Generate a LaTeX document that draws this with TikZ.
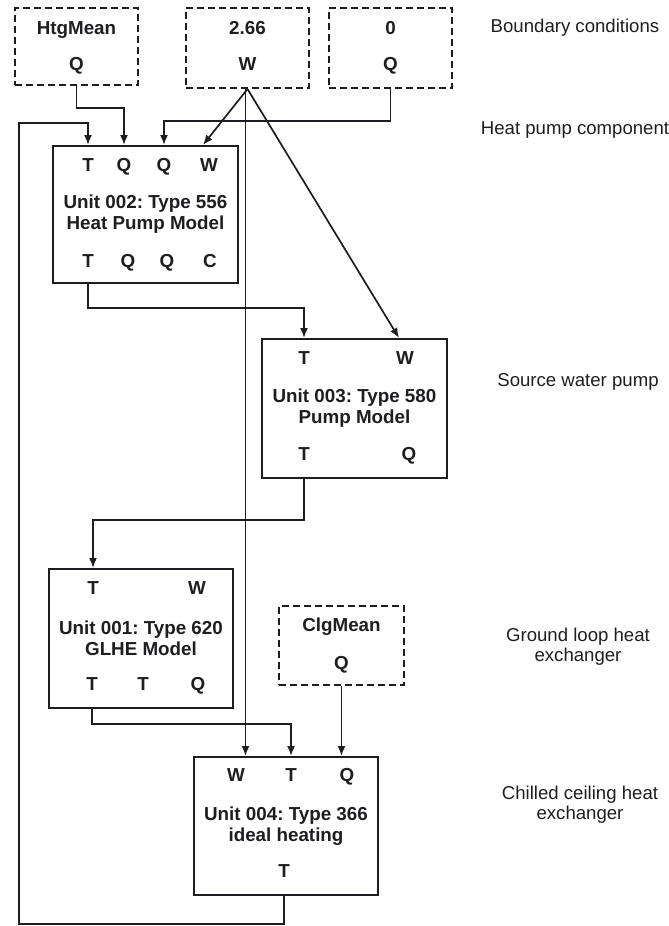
\documentclass[tikz,border=0pt]{standalone}
\usepackage{fontspec}
\setmainfont{Liberation Sans}
\frenchspacing
\usetikzlibrary{arrows.meta,positioning}
\definecolor{HpInk}{RGB}{30,30,34}
\tikzset{
  hp/unit/.style={
    draw=HpInk,
    line width=1pt,
    fill=white,
    align=center,
    text=HpInk,
    inner sep=0pt,
    font=\bfseries\fontsize{9.4}{10.5}\selectfont
  },
  hp/bound/.style={
    draw=HpInk,
    line width=1pt,
    dash pattern=on 3.5pt off 2pt,
    inner sep=0pt
  },
  hp/port/.style={font=\bfseries\fontsize{9.4}{11}\selectfont, text=HpInk, inner sep=1pt,
    text height=1.6ex, text depth=0.25ex},
  hp/note/.style={font=\fontsize{9.3}{10}\selectfont, text=HpInk, align=center},
  hp/arrow/.style={-{Latex[length=5pt,width=4pt]}, line width=0.85pt, draw=HpInk},
  hp/line/.style={line width=0.85pt, draw=HpInk}
}
\begin{document}
\begin{tikzpicture}[x=0.5pt,y=-0.5pt]
  \useasboundingbox (0,0) rectangle (669,926);
  % boundary conditions
  \node[hp/bound,minimum width=61.5pt,minimum height=38.5pt] (htg) at (76.5,46.5) {};
  \node[hp/bound,minimum width=61.5pt,minimum height=40pt] (w266) at (247.5,48) {};
  \node[hp/bound,minimum width=61.5pt,minimum height=40pt] (zero) at (390.5,48) {};
  \node[hp/bound,minimum width=62.5pt,minimum height=39.5pt] (clg) at (341.5,645.5) {};
  \node[hp/port] (htgname) at (76.5,27) {HtgMean};
  \node[hp/port] (htgq) at (76.5,63) {Q};
  \node[hp/port] (w266name) at (247.5,27) {2.66};
  \node[hp/port] (w266w) at (247.5,63) {W};
  \node[hp/port] (zeroname) at (390.5,27) {0};
  \node[hp/port] (zeroq) at (390.5,63) {Q};
  \node[hp/port] (clgname) at (341.5,624) {ClgMean};
  \node[hp/port] (clgq) at (341.5,662) {Q};
  % units
  \node[hp/unit,minimum width=92.5pt,minimum height=68.5pt] (u2) at (145.5,214.5) {Unit 002: Type 556\\Heat Pump Model};
  \node[hp/unit,minimum width=92.5pt,minimum height=69.5pt] (u3) at (354.5,408.5) {Unit 003: Type 580\\Pump Model};
  \node[hp/unit,minimum width=92pt,minimum height=69.5pt] (u1) at (141,638.5) {Unit 001: Type 620\\GLHE Model};
  \node[hp/unit,minimum width=92pt,minimum height=69pt] (u4) at (286,826) {Unit 004: Type 366\\ideal heating};
  % ports
  \node[hp/port] (u2i1) at (88,164) {T};
  \node[hp/port] (u2i2) at (124,164) {Q};
  \node[hp/port] (u2i3) at (164,164) {Q};
  \node[hp/port] (u2i4) at (209,164) {W};
  \node[hp/port] (u2o1) at (88,260) {T};
  \node[hp/port] (u2o2) at (128,260) {Q};
  \node[hp/port] (u2o3) at (167,260) {Q};
  \node[hp/port] (u2o4) at (210,260) {C};
  \node[hp/port] (u3i1) at (304,357) {T};
  \node[hp/port] (u3i2) at (405,357) {W};
  \node[hp/port] (u3o1) at (304,453) {T};
  \node[hp/port] (u3o2) at (409,453) {Q};
  \node[hp/port] (u1i1) at (93,587) {T};
  \node[hp/port] (u1i2) at (197,587) {W};
  \node[hp/port] (u1o1) at (92,683) {T};
  \node[hp/port] (u1o2) at (143,683) {T};
  \node[hp/port] (u1o3) at (198,683) {Q};
  \node[hp/port] (u4i1) at (236,774) {W};
  \node[hp/port] (u4i2) at (291,774) {T};
  \node[hp/port] (u4i3) at (347,774) {Q};
  \node[hp/port] (u4o1) at (284,870) {T};
  % notes
  \node[hp/note] (nbound) at (575,28) {Boundary conditions};
  \node[hp/note] (nhp) at (575,130) {Heat pump component};
  \node[hp/note] (npump) at (578,382) {Source water pump};
  \node[hp/note] (nglhe) at (578,647) {Ground loop heat\\exchanger};
  \node[hp/note] (nccl) at (580,805) {Chilled ceiling heat\\exchanger};
  % connectors
  \coordinate (loop) at (19,123);
  \draw[hp/arrow] (htg.south) -- ++(0,22) -| (u2i2 |- u2.north);
  \draw[hp/arrow] (zero.south) -- ++(0,32) -| (u2i3 |- u2.north);
  \draw[hp/arrow] (w266.south) -- ([xshift=-3pt]u2i4 |- u2.north);
  \draw[hp/arrow] (w266.south) -- ([xshift=-3pt]u3i2 |- u3.north);
  \draw[hp/arrow] ([xshift=-1pt]w266.south) -- ([xshift=-1pt]w266.south |- u4.north);
  \draw[hp/arrow] (u2.south -| u2o1) -- ++(0,24) -| (u3i1 |- u3.north);
  \draw[hp/arrow] (u3.south -| u3o1) -- ++(0,41) -| (u1i1 |- u1.north);
  \draw[hp/arrow] (u1.south -| u1o1) -- ++(0,15) -| (u4i2 |- u4.north);
  \draw[hp/arrow] (clg.south) -- (clg.south |- u4.north);
  \draw[hp/arrow] (u4.south -| u4o1) -- ++(0,28) -| (loop) -| (u2i1 |- u2.north);
\end{tikzpicture}
\end{document}
